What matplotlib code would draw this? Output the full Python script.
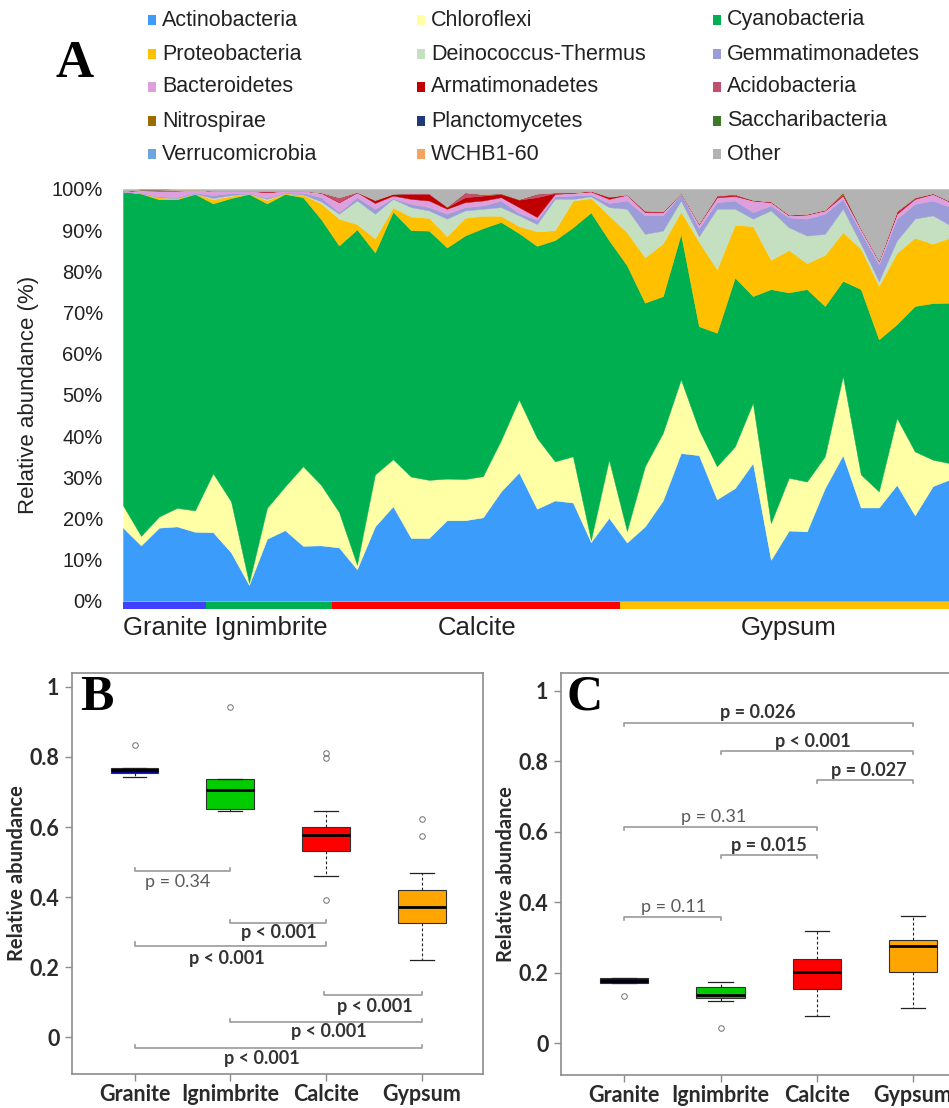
import numpy as np
import matplotlib
matplotlib.use("Agg")
import matplotlib.pyplot as plt
from matplotlib.patches import Rectangle

# ---- panel A data: relative abundance (%) per sample ----
samples = np.arange(47)
group_names = ["Granite", "Ignimbrite", "Calcite", "Gypsum"]
group_sizes = [5, 7, 16, 19]
group_colors = ["#4040FF", "#00B050", "#FF0000", "#FFC000"]

actino = [17.8, 13.5, 17.8, 18.1, 16.8, 16.7, 11.8, 3.9, 15.1, 17.2, 13.4, 13.5, 13.0, 7.7, 18.1, 23.0, 15.3, 15.3, 19.6, 19.6,
          20.3, 26.6, 31.2, 22.4, 24.4, 23.9, 14.3, 20.2, 14.2, 18.1, 24.4, 35.9, 35.4, 24.7, 27.4, 33.5, 10.0, 17.1, 16.9, 27.4,
          35.4, 22.7, 22.7, 28.2, 20.8, 27.9, 29.6]
chloro = [5.4, 2.3, 2.7, 4.5, 5.2, 14.3, 12.4, 0.5, 7.5, 10.6, 19.3, 14.7, 8.6, 1.1, 12.6, 11.4, 14.9, 14.1, 10.1, 10.0,
          10.0, 12.4, 17.7, 17.2, 9.5, 11.2, 0.5, 14.1, 2.8, 14.6, 16.4, 17.9, 6.2, 8.0, 10.1, 14.6, 8.9, 12.8, 12.1, 7.7,
          19.2, 8.0, 3.9, 16.2, 15.5, 6.4, 3.8]
cyano = [76.2, 83.1, 77.0, 74.9, 76.8, 65.5, 73.6, 94.4, 73.9, 71.0, 65.3, 64.5, 64.7, 81.4, 53.9, 60.1, 59.8, 60.5, 56.1, 59.1,
         60.2, 53.0, 40.4, 46.6, 53.7, 55.6, 79.5, 53.3, 64.5, 39.7, 33.2, 35.3, 25.1, 32.4, 41.0, 25.9, 56.8, 45.0, 46.7, 36.5,
         23.1, 45.0, 36.9, 22.8, 35.3, 38.0, 39.0]
proteo = [0.0, 0.1, 0.5, 0.3, 0.1, 1.0, 0.5, 0.1, 0.8, 0.2, 0.6, 3.8, 6.5, 1.3, 3.4, 1.0, 3.3, 3.1, 2.7, 4.3,
          3.0, 1.5, 1.7, 3.5, 2.4, 6.5, 3.5, 6.0, 8.0, 11.0, 12.8, 5.4, 20.5, 15.4, 12.8, 17.0, 7.1, 10.3, 6.3, 12.4,
          11.8, 9.8, 13.0, 17.3, 16.6, 14.4, 15.9]
deino = [0, 0, 0, 0, 0, 0.3, 0.2, 0, 0.3, 0, 0.1, 0.5, 1.2, 5.7, 6.0, 2.1, 2.3, 1.8, 4.3, 1.8,
         1.7, 2.1, 2.6, 1.8, 7.6, 0.4, 0.4, 2.0, 5.7, 5.7, 3.1, 2.7, 1.3, 14.7, 3.9, 1.8, 12.0, 5.5, 6.7, 5.1,
         5.7, 1.2, 1.1, 3.0, 4.6, 6.9, 2.8]
gemma = [0, 0, 0.2, 0.2, 0.2, 0.7, 0.5, 0.1, 0.3, 0.1, 0.4, 1.0, 0.4, 0.8, 1.2, 0.2, 0.8, 0.8, 1.2, 0.8,
         0.8, 1.6, 0.6, 1.0, 0.6, 0.8, 0.4, 1.0, 2.0, 4.5, 3.7, 1.6, 2.0, 1.6, 2.0, 1.6, 1.2, 2.4, 4.1, 4.9,
         2.4, 2.8, 4.1, 5.3, 3.6, 3.6, 4.5]
bacter = [0.1, 0.7, 1.4, 1.6, 0.7, 1.1, 0.6, 0.6, 1.3, 0.5, 0.5, 1.1, 2.4, 1.2, 1.4, 0.6, 1.2, 1.6, 1.2, 1.2,
          1.2, 0.8, 1.4, 0.7, 0.6, 0.7, 0.8, 1.0, 1.4, 0.8, 0.8, 0.2, 1.0, 1.2, 1.1, 2.8, 0.8, 0.5, 1.0, 0.8,
          0.8, 0.8, 0.8, 1.2, 1.2, 1.6, 1.2]
armat = [0, 0.1, 0.2, 0.1, 0, 0, 0, 0, 0.1, 0, 0, 0, 0, 0, 0.6, 0.4, 1.2, 1.6, 0.4, 1.2,
         1.2, 0.8, 1.8, 4.8, 0.2, 0, 0.1, 0.4, 0, 0.1, 0.1, 0, 0.1, 0.3, 0.2, 0.1, 0.1, 0.1, 0.1, 0.1,
         0.2, 0.1, 0.1, 0.4, 0.2, 0.1, 0.1]
acido = [0, 0.1, 0.1, 0.1, 0, 0, 0, 0, 0.3, 0, 0, 0.1, 1.2, 0.1, 0.2, 0.1, 0.2, 0.2, 0.2, 1.2,
         0.4, 0.2, 0.2, 0.9, 0.2, 0.1, 0.1, 0.2, 0.1, 0.3, 0.1, 0.1, 0.1, 0.1, 0.2, 0.1, 0.1, 0.1, 0.1, 0.1,
         0.4, 0.1, 0.1, 0.2, 0.2, 0.1, 0.1]
nitro = [0, 0, 0, 0, 0, 0, 0, 0, 0, 0, 0, 0, 0, 0, 0, 0, 0, 0, 0, 0,
         0, 0, 0, 0, 0, 0, 0, 0, 0, 0, 0, 0, 0, 0.1, 0.1, 0, 0, 0, 0, 0,
         0.2, 0, 0, 0.1, 0, 0, 0]
plancto = [0, 0, 0, 0, 0, 0, 0, 0, 0, 0, 0, 0, 0, 0, 0, 0, 0, 0, 0, 0,
           0, 0, 0, 0, 0, 0, 0, 0, 0, 0, 0, 0, 0, 0, 0, 0, 0, 0, 0, 0,
           0, 0, 0, 0, 0, 0, 0]
sacchari = [0, 0, 0, 0, 0, 0, 0, 0, 0, 0, 0, 0, 0, 0, 0, 0, 0, 0, 0, 0,
            0, 0, 0, 0, 0, 0, 0, 0, 0, 0, 0, 0, 0, 0, 0, 0, 0, 0, 0, 0,
            0.1, 0, 0, 0, 0, 0, 0]
verruco = [0, 0, 0, 0, 0, 0, 0, 0, 0, 0, 0, 0, 0, 0, 0, 0, 0, 0, 0, 0,
           0, 0, 0, 0, 0, 0, 0, 0, 0, 0, 0, 0, 0, 0, 0, 0, 0, 0, 0, 0,
           0, 0, 0, 0, 0, 0, 0]
wchb = [0, 0, 0, 0, 0, 0, 0, 0, 0, 0, 0, 0, 0, 0, 0, 0, 0, 0, 0, 0,
        0, 0, 0, 0, 0, 0, 0, 0, 0, 0, 0, 0, 0, 0, 0, 0, 0, 0, 0, 0,
        0, 0, 0, 0, 0, 0, 0]
other = [0.5, 0.1, 0.1, 0.2, 0.2, 0.4, 0.4, 0.4, 0.4, 0.4, 0.4, 0.8, 2.0, 0.7, 2.6, 1.1, 1.0, 1.0, 4.2, 0.8,
         1.2, 1.0, 2.4, 1.1, 0.8, 0.8, 0.4, 1.8, 1.3, 5.2, 5.4, 0.9, 8.3, 1.5, 1.2, 2.6, 3.0, 6.2, 6.0, 5.0,
         0.7, 9.5, 17.3, 5.3, 2.0, 1.0, 3.0]

phyla = ["Actinobacteria", "Chloroflexi", "Cyanobacteria", "Proteobacteria", "Deinococcus-Thermus",
         "Gemmatimonadetes", "Bacteroidetes", "Armatimonadetes", "Acidobacteria", "Nitrospirae",
         "Planctomycetes", "Saccharibacteria", "Verrucomicrobia", "WCHB1-60", "Other"]
phyla_values = [actino, chloro, cyano, proteo, deino, gemma, bacter, armat, acido, nitro,
                plancto, sacchari, verruco, wchb, other]
phyla_colors = ["#3C9CFC", "#FFFFA6", "#00B050", "#FFC000", "#C5E0C1", "#9C9CD8", "#DDA0DD", "#C00000",
                "#C0506E", "#9C6B00", "#1F3A7A", "#3C7A2B", "#6CA6DE", "#F4A460", "#B3B3B3"]

# ---- panels B and C: box statistics ----
box_labels = ["Granite", "Ignimbrite", "Calcite", "Gypsum"]
box_colors = ["#0000A0", "#00CC00", "#FF0000", "#FFA500"]
b_q1 = [0.755, 0.650, 0.531, 0.327]
b_med = [0.762, 0.706, 0.576, 0.372]
b_q3 = [0.767, 0.736, 0.601, 0.420]
b_lo = [0.743, 0.647, 0.461, 0.221]
b_hi = [0.767, 0.738, 0.646, 0.470]
b_fliers = [[0.834], [0.942], [0.810, 0.796, 0.392], [0.623, 0.574]]

c_q1 = [0.172, 0.128, 0.154, 0.203]
c_med = [0.178, 0.137, 0.203, 0.276]
c_q3 = [0.184, 0.161, 0.239, 0.293]
c_lo = [0.172, 0.121, 0.076, 0.101]
c_hi = [0.184, 0.175, 0.318, 0.361]
c_fliers = [[0.134], [0.042], [], []]

# brackets: (x1, x2, line y, text, bold, text x, text y)
b_tests = [(1, 2, 0.475, "p = 0.34", False, 1.45, 0.444),
           (2, 3, 0.327, "p < 0.001", True, 2.51, 0.298),
           (1, 3, 0.262, "p < 0.001", True, 1.96, 0.225),
           (2.98, 4, 0.120, "p < 0.001", True, 3.51, 0.089),
           (2, 4, 0.045, "p < 0.001", True, 3.03, 0.016),
           (1, 4, -0.030, "p < 0.001", True, 2.33, -0.060)]
c_tests = [(1, 4, 0.909, "p = 0.026", True, 2.39, 0.938),
           (2, 4, 0.830, "p < 0.001", True, 2.96, 0.857),
           (3, 4, 0.747, "p = 0.027", True, 3.54, 0.775),
           (1, 3, 0.614, "p = 0.31", False, 1.93, 0.643),
           (2, 3, 0.534, "p = 0.015", True, 2.50, 0.562),
           (1, 2, 0.359, "p = 0.11", False, 1.51, 0.387)]

W, H = 949, 1108
fig = plt.figure(figsize=(W / 100, H / 100), dpi=100)
sans = ["Liberation Sans", "DejaVu Sans"]
calib = ["Lato", "DejaVu Sans"]


def fx(px):
    return px / W


def fy(py):
    return 1 - py / H


# ---------------- panel A ----------------
axA = fig.add_axes([fx(123), fy(601), fx(826), 412 / H])
polys = axA.stackplot(samples, *phyla_values, colors=phyla_colors, linewidth=0.3)
for p, c in zip(polys, phyla_colors):
    p.set_edgecolor(c)
axA.set_xlim(0, 45.9)
axA.set_ylim(0, 100)
for s in axA.spines.values():
    s.set_visible(False)
axA.set_xticks([])
axA.set_yticks(range(0, 101, 10))
axA.set_yticklabels([f"{v}%" for v in range(0, 101, 10)], fontsize=14.5, family=sans, color="#222222")
axA.tick_params(axis="y", length=0, pad=14.5)
axA.set_ylabel("Relative abundance (%)", fontsize=16, family=sans, color="#222222")
axA.yaxis.set_label_coords(-0.102, 0.5)

# group colour band and labels
ends = np.cumsum(group_sizes)
starts = np.concatenate([[0], ends[:-1]])
for i, (s0, s1) in enumerate(zip(starts, ends)):
    x0 = 0 if i == 0 else s0 - 0.4
    x1 = s1 - 0.4
    band = axA.axvspan(x0, x1, ymin=-0.0195, ymax=-0.003, color=group_colors[i], lw=0)
    band.set_clip_on(False)
lab_y = -0.066
axA.text(0, lab_y, "Granite Ignimbrite", transform=axA.get_xaxis_transform(), ha="left", va="center",
         fontsize=18.5, family=sans, color="#222222")
axA.text((starts[2] + ends[2] - 1) / 2 + 0.2, lab_y, "Calcite", transform=axA.get_xaxis_transform(),
         ha="center", va="center", fontsize=18.5, family=sans, color="#222222")
axA.text(37, lab_y, "Gypsum", transform=axA.get_xaxis_transform(), ha="center", va="center",
         fontsize=18.5, family=sans, color="#222222")

# legend (3 columns, row-wise)
col_x = [152, 421, 717]
row_y = [20, 54, 87, 121, 154]
for i, (name, c) in enumerate(zip(phyla, phyla_colors)):
    r, k = divmod(i, 3)
    fig.add_artist(Rectangle((fx(col_x[k] - 4), fy(row_y[r] + 5)), fx(8), 10 / H, color=c, lw=0))
    fig.text(fx(col_x[k] + 10), fy(row_y[r]), name, ha="left", va="center", fontsize=15.5,
             family=sans, color="#222222")

fig.text(fx(75), fy(64), "A", ha="center", va="center", fontsize=38, family=["Liberation Serif"],
         weight="bold")


# ---------------- panels B and C ----------------
def box_panel(rect, xlim, ylim, q1, med, q3, lo, hi, fliers, tests, up, label_x):
    ax = fig.add_axes(rect)
    stats = []
    for i in range(4):
        stats.append(dict(q1=q1[i], med=med[i], q3=q3[i], whislo=lo[i], whishi=hi[i],
                          fliers=fliers[i], label=box_labels[i]))
    bp = ax.bxp(stats, positions=[1, 2, 3, 4], widths=0.5, capwidths=0.25, patch_artist=True,
                boxprops=dict(edgecolor="#303030", linewidth=0.8),
                medianprops=dict(color="black", linewidth=2),
                whiskerprops=dict(color="#202020", linestyle=(0, (2.5, 2)), linewidth=0.8),
                capprops=dict(color="#202020", linewidth=0.9),
                flierprops=dict(marker="o", markerfacecolor="none", markeredgecolor="#707070",
                                markersize=4, markeredgewidth=0.7))
    for patch, c in zip(bp["boxes"], box_colors):
        patch.set_facecolor(c)
    ax.set_xlim(*xlim)
    ax.set_ylim(*ylim)
    for s in ax.spines.values():
        s.set_color("#8C8C8C")
        s.set_linewidth(1.2)
    ax.set_yticks([0, 0.2, 0.4, 0.6, 0.8, 1])
    ax.set_yticklabels(["0", "0.2", "0.4", "0.6", "0.8", "1"])
    ax.tick_params(colors="#8C8C8C", length=5, width=1, labelcolor="#2A2A2A", labelsize=15.5, pad=4)
    ax.tick_params(axis="x", pad=2)
    for t in ax.get_xticklabels() + ax.get_yticklabels():
        t.set_family(calib)
        t.set_weight("bold")
    ax.set_ylabel("Relative abundance", fontsize=14.5, family=calib, weight="bold", color="#2A2A2A")
    ax.yaxis.set_label_coords(label_x, 0.5)
    d = 0.009 if up else -0.009
    for x1, x2, y, txt, bold, tx, ty in tests:
        ax.plot([x1, x1, x2, x2], [y + d, y, y, y + d], color="#9A9A9A", lw=1.2)
        ax.text(tx, ty, txt, ha="center", va="center", fontsize=13, family=calib,
                weight="bold" if bold else "normal", color="#333333" if bold else "#5A5A5A")
    return ax


box_panel([fx(72), fy(1074.3), fx(411), 401.6 / H], (0.347, 4.64), (-0.105, 1.04),
          b_q1, b_med, b_q3, b_lo, b_hi, b_fliers, b_tests, True, -0.11)
fig.text(fx(97), fy(698), "B", ha="center", va="center", fontsize=36, family=["Liberation Serif"],
         weight="bold")

box_panel([fx(561), fy(1075), fx(413.5), 402.3 / H], (0.342, 4.64), (-0.090, 1.051),
          c_q1, c_med, c_q3, c_lo, c_hi, c_fliers, c_tests, False, -0.109)
fig.text(fx(585), fy(697), "C", ha="center", va="center", fontsize=36, family=["Liberation Serif"],
         weight="bold")

fig.savefig("out.png", dpi=100)
